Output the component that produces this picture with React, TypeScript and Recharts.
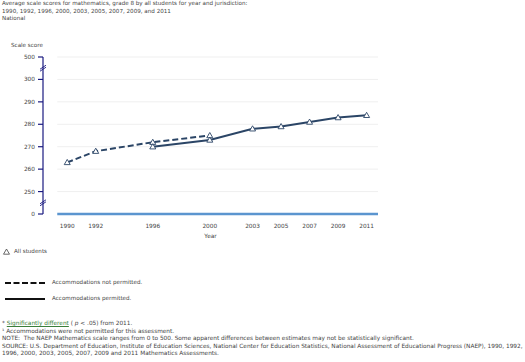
import {LineChart, Line, XAxis, YAxis, ReferenceLine, ReferenceDot} from 'recharts';

const years = [1990, 1992, 1996, 2000, 2003, 2005, 2007, 2009, 2011];
// accommodations not permitted (dashed)
const notPermitted = [263, 268, 272, 275, null, null, null, null, null];
// accommodations permitted (solid)
const permitted = [null, null, 270, 273, 278, 279, 281, 283, 284];
// y axis is broken: 0 sits one step below 250, 500 one step above 300
const yTicks = [240, 250, 260, 270, 280, 290, 300, 310];
const yLabels: Record<number, string> = {240: '0', 250: '250', 260: '260', 270: '270', 280: '280', 290: '290', 300: '300', 310: '500'};

const data = years.map((y, i) => ({year: y, np: notPermitted[i], p: permitted[i]}));

const LINE = '#2b4566';
const TEXT = '#444';
const FONT = '"DejaVu Sans", Verdana, sans-serif';

const Tri = (props: any) => {
    const {cx, cy, key} = props;
    if (cx == null || cy == null || props.value == null) return <g key={key}/>;
    return <path key={key} d={`M${cx},${cy - 3} L${cx + 3},${cy + 2.2} L${cx - 3},${cy + 2.2} Z`}
                 fill="#fff" stroke={LINE} strokeWidth={0.9}/>;
};

const BreakMark = (props: any) => {
    const {cx, cy} = props;
    return (
        <g stroke="#1a1a80" strokeWidth={0.9}>
            <line x1={cx - 3} y1={cy + 1} x2={cx + 3} y2={cy - 3}/>
            <line x1={cx - 3} y1={cy + 3} x2={cx + 3} y2={cy - 1}/>
        </g>
    );
};

const txt: React.CSSProperties = {position: 'absolute', fontFamily: FONT, fontSize: 5.6, color: TEXT, whiteSpace: 'nowrap', lineHeight: '7.6px'};

export default function App() {
    return (
        <div style={{position: 'absolute', left: 0, top: 0, width: 525, height: 362, background: '#fff', overflow: 'hidden'}}>
            <div style={{...txt, left: 2, top: 0}}>
                Average scale scores for mathematics, grade 8 by all students for year and jurisdiction:<br/>
                1990, 1992, 1996, 2000, 2003, 2005, 2007, 2009, and 2011<br/>
                National
            </div>
            <div style={{...txt, left: 11, top: 42}}>Scale score</div>

            <div style={{position: 'absolute', left: 0, top: 0}}>
                <LineChart width={400} height={245} data={data}
                           margin={{top: 57, right: 22, left: 0, bottom: 0}}>
                    <XAxis dataKey="year" type="number" domain={[1988.3, 2011.8]} ticks={years}
                           axisLine={false} tickLine={false} tickMargin={4} height={31}
                           tick={{fontSize: 5.8, fill: TEXT, fontFamily: FONT}}
                           label={{value: 'Year', position: 'insideBottom', offset: 7, fontSize: 5.8, fill: TEXT, fontFamily: FONT}}/>
                    <YAxis type="number" domain={[240, 310]} ticks={yTicks} width={43}
                           tickFormatter={(v: number) => yLabels[v]} interval={0}
                           axisLine={{stroke: '#1a1a80', strokeWidth: 1.2}}
                           tickLine={{stroke: '#1a1a80', strokeWidth: 1.2}} tickSize={5} tickMargin={3}
                           tick={{fontSize: 5.8, fill: TEXT, fontFamily: FONT}}/>
                    {yTicks.slice(1).map(v => (
                        <ReferenceLine key={v} segment={[{x: 1989.3, y: v}, {x: 2011.8, y: v}]}
                                       stroke="#efefef" strokeWidth={1}/>
                    ))}
                    <ReferenceLine segment={[{x: 1989.3, y: 240}, {x: 2011.8, y: 240}]}
                                   stroke="#5b95cf" strokeWidth={2.4}/>
                    <ReferenceDot x={1988.3} y={305} r={3} shape={BreakMark}/>
                    <ReferenceDot x={1988.3} y={245} r={3} shape={BreakMark}/>
                    <Line dataKey="np" stroke={LINE} strokeWidth={2} strokeDasharray="6 3"
                          dot={Tri} isAnimationActive={false}/>
                    <Line dataKey="p" stroke={LINE} strokeWidth={2}
                          dot={Tri} isAnimationActive={false}/>
                </LineChart>
            </div>

            <svg style={{position: 'absolute', left: 0, top: 245}} width={60} height={60}>
                <path d="M6.5,4 L9.5,9.2 L3.5,9.2 Z" fill="#fff" stroke="#444" strokeWidth={0.8}/>
                <line x1={5} y1={38} x2={45} y2={38} stroke="#111" strokeWidth={2} strokeDasharray="6 2.5"/>
                <line x1={5} y1={54} x2={45} y2={54} stroke="#111" strokeWidth={2}/>
            </svg>
            <div style={{...txt, left: 14, top: 248}}>All students</div>
            <div style={{...txt, left: 52, top: 279}}>Accommodations not permitted.</div>
            <div style={{...txt, left: 52, top: 295}}>Accommodations permitted.</div>

            <div style={{...txt, fontSize: 5.8, left: 2, top: 320}}>
                * <span style={{color: '#3a7f3a', textDecoration: 'underline'}}>Significantly different</span> ( <i>p</i> &lt; .05) from 2011.<br/>
                ¹ Accommodations were not permitted for this assessment.<br/>
                NOTE:&nbsp; The NAEP Mathematics scale ranges from 0 to 500. Some apparent differences between estimates may not be statistically significant.<br/>
                SOURCE: U.S. Department of Education, Institute of Education Sciences, National Center for Education Statistics, National Assessment of Educational Progress (NAEP), 1990, 1992,<br/>
                1996, 2000, 2003, 2005, 2007, 2009 and 2011 Mathematics Assessments.
            </div>
        </div>
    );
}
